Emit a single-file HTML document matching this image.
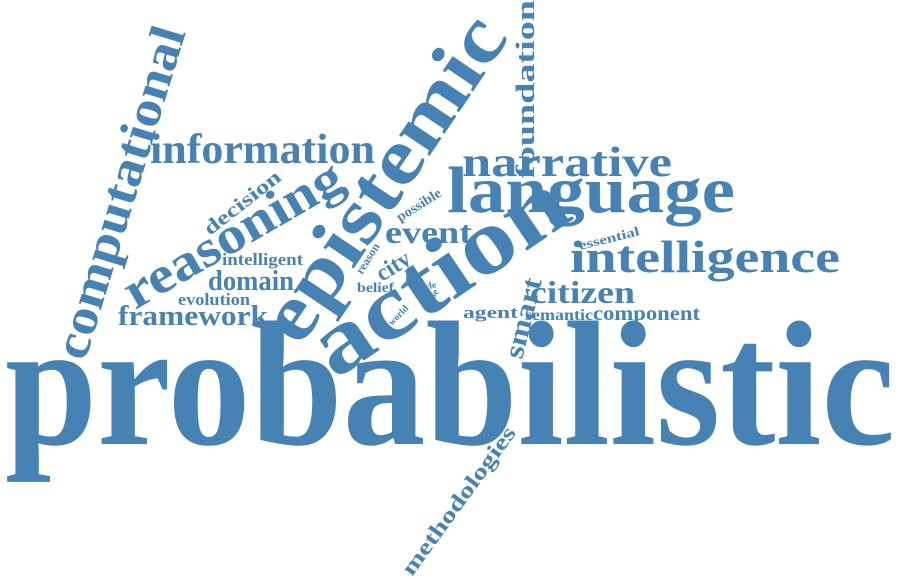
<!DOCTYPE html>
<html><head><meta charset="utf-8"><style>
html,body{margin:0;padding:0;background:#fff;width:900px;height:580px;overflow:hidden}
svg text{font-family:"Liberation Serif",serif;font-weight:bold;fill:#4682b4}
</style></head><body>
<svg width="900" height="580" viewBox="0 0 900 580">
<text x="5" y="444" font-size="178" textLength="890" lengthAdjust="spacingAndGlyphs">probabilistic</text>
<text transform="translate(300,348) rotate(-56)" font-size="80" textLength="375" lengthAdjust="spacingAndGlyphs">epistemic</text>
<text transform="translate(335,380) rotate(-34)" font-size="92" textLength="290" lengthAdjust="spacingAndGlyphs">action</text>
<text transform="translate(85,362) rotate(-73)" font-size="50" textLength="345" lengthAdjust="spacingAndGlyphs">computational</text>
<text transform="translate(534,178) rotate(-90)" font-size="26" textLength="178" lengthAdjust="spacingAndGlyphs">foundation</text>
<text x="150" y="163" font-size="42" textLength="225" lengthAdjust="spacingAndGlyphs">information</text>
<text x="462" y="176" font-size="42" textLength="210" lengthAdjust="spacingAndGlyphs">narrative</text>
<text x="447" y="212" font-size="66" textLength="288" lengthAdjust="spacingAndGlyphs">language</text>
<text x="570" y="272" font-size="45" textLength="270" lengthAdjust="spacingAndGlyphs">intelligence</text>
<text x="530" y="303" font-size="32" textLength="105" lengthAdjust="spacingAndGlyphs">citizen</text>
<text x="593" y="320" font-size="20" textLength="107" lengthAdjust="spacingAndGlyphs">component</text>
<text x="525" y="320" font-size="16" textLength="68" lengthAdjust="spacingAndGlyphs">semantic</text>
<text x="463" y="318" font-size="17" textLength="55" lengthAdjust="spacingAndGlyphs">agent</text>
<text transform="translate(580,250) rotate(-14)" font-size="13" textLength="62" lengthAdjust="spacingAndGlyphs">essential</text>
<text transform="translate(522,360) rotate(-76)" font-size="28" textLength="82" lengthAdjust="spacingAndGlyphs">smart</text>
<text transform="translate(135,310) rotate(-30)" font-size="52" textLength="245" lengthAdjust="spacingAndGlyphs">reasoning</text>
<text transform="translate(210,236) rotate(-38)" font-size="20" textLength="92" lengthAdjust="spacingAndGlyphs">decision</text>
<text x="222" y="265" font-size="17" textLength="81" lengthAdjust="spacingAndGlyphs">intelligent</text>
<text x="208" y="290" font-size="28" textLength="86" lengthAdjust="spacingAndGlyphs">domain</text>
<text x="178" y="305" font-size="17" textLength="72" lengthAdjust="spacingAndGlyphs">evolution</text>
<text x="118" y="325" font-size="28" textLength="150" lengthAdjust="spacingAndGlyphs">framework</text>
<text x="385" y="243" font-size="32" textLength="87" lengthAdjust="spacingAndGlyphs">event</text>
<text transform="translate(400,222) rotate(-32)" font-size="14" textLength="50" lengthAdjust="spacingAndGlyphs">possible</text>
<text transform="translate(382,282) rotate(-32)" font-size="24" textLength="36" lengthAdjust="spacingAndGlyphs">city</text>
<text transform="translate(362,275) rotate(-58)" font-size="12" textLength="34" lengthAdjust="spacingAndGlyphs">reason</text>
<text x="357" y="292" font-size="14" textLength="37" lengthAdjust="spacingAndGlyphs">belief</text>
<text transform="translate(418,291) rotate(-10)" font-size="10" textLength="19" lengthAdjust="spacingAndGlyphs">style</text>
<text transform="translate(430,306) rotate(-58)" font-size="10" textLength="17" lengthAdjust="spacingAndGlyphs">case</text>
<text transform="translate(392,326) rotate(-45)" font-size="10" textLength="24" lengthAdjust="spacingAndGlyphs">world</text>
<text transform="translate(412,577) rotate(-54)" font-size="22" textLength="178" lengthAdjust="spacingAndGlyphs">methodologies</text>
</svg>
</body></html>
